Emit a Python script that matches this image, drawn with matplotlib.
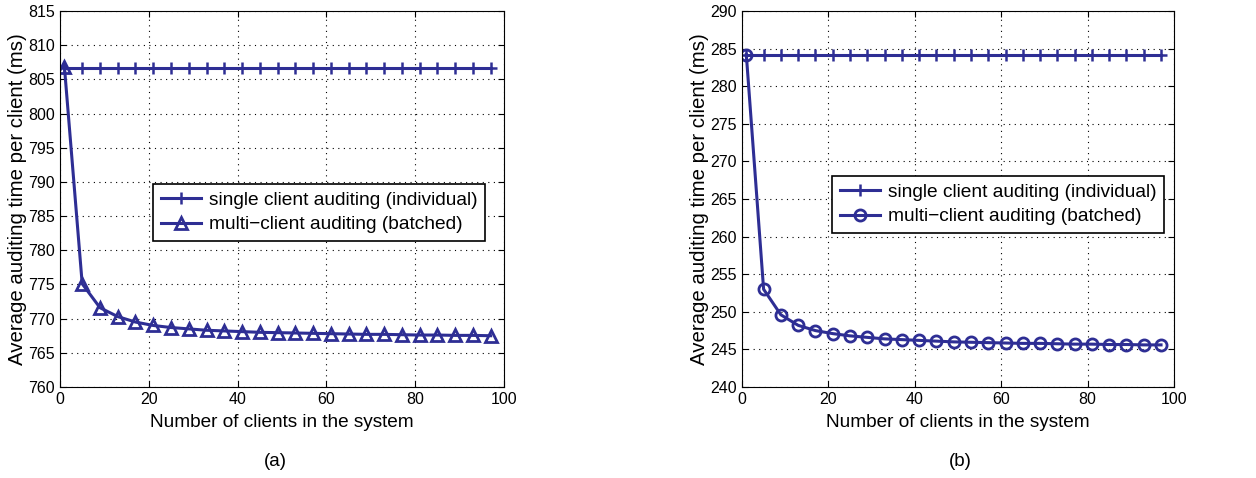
import matplotlib
matplotlib.use('Agg')
import matplotlib.pyplot as plt

plt.rcParams['font.family'] = ['Liberation Sans', 'DejaVu Sans']

clients = list(range(1, 98, 4))

# (a)
single_a = [806.6] * len(clients)
batched_a = [806.8, 775.1, 771.6, 770.3, 769.5, 769.0, 768.7, 768.5, 768.3, 768.2,
             768.1, 768.0, 767.95, 767.9, 767.85, 767.8, 767.75, 767.7, 767.7, 767.65,
             767.6, 767.6, 767.55, 767.55, 767.5]

# (b)
single_b = [284.2] * len(clients)
batched_b = [284.2, 253.0, 249.6, 248.2, 247.5, 247.1, 246.8, 246.6, 246.4, 246.3,
             246.2, 246.1, 246.0, 245.95, 245.9, 245.85, 245.8, 245.8, 245.75, 245.7,
             245.7, 245.65, 245.65, 245.6, 245.6]

color = '#2e2e94'

fig = plt.figure(figsize=(12.56, 4.78), dpi=100)
W, H = 1256, 478


def make_axes(left, right, top, bottom):
    return fig.add_axes([left / W, 1 - bottom / H, (right - left) / W, (bottom - top) / H])


panels = [
    (make_axes(60, 504, 11, 387), single_a, batched_a, '^', (760, 815), range(760, 816, 5),
     (153, 184), '(a)', 275),
    (make_axes(742, 1174, 11, 387), single_b, batched_b, 'o', (240, 290), range(240, 291, 5),
     (832, 176), '(b)', 960),
]

for ax, single, batched, mk, ylim, yt, lpos, cap, capx in panels:
    ax.plot(clients, single, color=color, lw=2.2, marker='+', ms=8, mew=1.8,
            label='single client auditing (individual)')
    ax.plot(clients, batched, color=color, lw=2.2, marker=mk, ms=8, mew=2.0,
            mfc='none', label='multi\u2212client auditing (batched)')
    ax.set_xlim(0, 100)
    ax.set_ylim(*ylim)
    ax.set_xticks(range(0, 101, 20))
    ax.set_yticks(list(yt))
    ax.tick_params(direction='in', top=True, right=True, labelsize=11.5, length=4)
    ax.grid(True, linestyle=(0, (1, 4)), color='black', lw=0.8)
    ax.set_xlabel('Number of clients in the system', fontsize=13.7, labelpad=5)
    ax.set_ylabel('Average auditing time per client (ms)', fontsize=14.7, labelpad=1)
    pos = ax.get_position()
    x0, y0 = lpos
    leg = ax.legend(loc='upper left', fontsize=13.8, fancybox=False, edgecolor='black',
                    handlelength=2.1, borderpad=0.4, labelspacing=0.35, handletextpad=0.4,
                    borderaxespad=0, framealpha=1,
                    bbox_to_anchor=((x0 / W - pos.x0) / pos.width,
                                    (1 - y0 / H - pos.y0) / pos.height))
    leg.get_frame().set_linewidth(1.2)
    fig.text(capx / W, 1 - 462 / H, cap, fontsize=13.5, ha='center', va='center')

fig.savefig('out.png', dpi=100)
